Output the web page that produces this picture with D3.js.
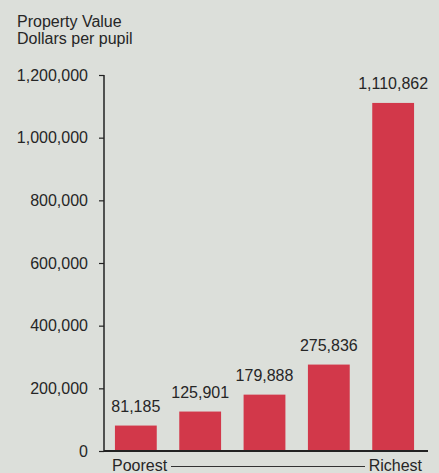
<!DOCTYPE html>
<html>
<head>
<meta charset="utf-8">
<script src="https://cdn.jsdelivr.net/npm/d3@7"></script>
<style>
  body { margin: 0; background: #dcdfda; }
  svg { display: block; }
  text { font-family: "Liberation Sans", Arial, sans-serif; fill: #262626; }
</style>
</head>
<body>
<div class="chart"></div>
<script>
const groups = ["Q1", "Q2", "Q3", "Q4", "Q5"];
const values = [81185, 125901, 179888, 275836, 1110862];
const yTicks = [0, 200000, 400000, 600000, 800000, 1000000, 1200000];

const width = 439, height = 473;
const fs = 16;

const svg = d3.select('.chart').append('svg')
    .attr('width', width)
    .attr('height', height)
    .attr('viewBox', [0, 0, width, height]);

const x = d3.scaleBand()
    .domain(groups)
    .range([104, 425])
    .paddingInner(0.35)
    .paddingOuter(0.17);

const y = d3.scaleLinear()
    .domain([0, 1200000])
    .range([451, 75]);

// title
svg.append('text').attr('x', 17).attr('y', 27).attr('font-size', fs).text('Property Value');
svg.append('text').attr('x', 17).attr('y', 44).attr('font-size', fs).text('Dollars per pupil');

// bars
svg.selectAll('rect.bar')
    .data(values)
    .join('rect')
    .attr('class', 'bar')
    .attr('x', (d, i) => x(groups[i]))
    .attr('width', x.bandwidth())
    .attr('y', d => y(d))
    .attr('height', d => y(0) - y(d))
    .attr('fill', '#d2384a');

svg.selectAll('text.val')
    .data(values)
    .join('text')
    .attr('class', 'val')
    .attr('x', (d, i) => x(groups[i]) + x.bandwidth() / 2)
    .attr('y', d => y(d) - 14)
    .attr('text-anchor', 'middle')
    .attr('font-size', fs)
    .text(d => d3.format(',')(d));

// y axis
const yAxis = d3.axisLeft(y)
    .tickValues(yTicks)
    .tickSize(5)
    .tickPadding(11)
    .tickFormat(d3.format(','));

const ga = svg.append('g')
    .attr('transform', 'translate(104,0)')
    .call(yAxis);
ga.select('.domain').remove();
ga.selectAll('line').attr('stroke', '#222').attr('stroke-width', 1.2);
ga.selectAll('text').attr('font-size', fs).attr('font-family', '"Liberation Sans", Arial, sans-serif').attr('fill', '#262626');

svg.append('line')
    .attr('x1', 104).attr('x2', 104)
    .attr('y1', y(1200000)).attr('y2', y(0))
    .attr('stroke', '#222').attr('stroke-width', 1.5);

// baseline
svg.append('line')
    .attr('x1', 104).attr('x2', 428)
    .attr('y1', y(0)).attr('y2', y(0))
    .attr('stroke', '#222').attr('stroke-width', 2);

// poorest / richest
svg.append('text').attr('x', 112).attr('y', 471).attr('font-size', fs).text('Poorest');
svg.append('text').attr('x', 422).attr('y', 471).attr('font-size', fs).attr('text-anchor', 'end').text('Richest');
svg.append('line')
    .attr('x1', 171).attr('x2', 365)
    .attr('y1', 466.5).attr('y2', 466.5)
    .attr('stroke', '#333').attr('stroke-width', 1);
</script>
</body>
</html>
